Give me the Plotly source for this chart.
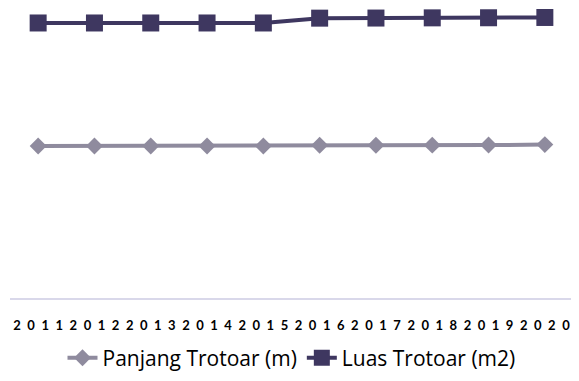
import plotly.graph_objects as go

years = ["2011", "2012", "2013", "2014", "2015", "2016", "2017", "2018", "2019", "2020"]
panjang = [15720, 15720, 15720, 15720, 15730, 15800, 15800, 15810, 15820, 15870]
luas = [28450, 28450, 28450, 28450, 28450, 28950, 28960, 28980, 28990, 29020]

ticktext = ["\u2002".join(list(y)) for y in years]

fig = go.Figure()
fig.add_trace(go.Scatter(
    x=years, y=panjang, name="Panjang Trotoar (m)", mode="lines+markers",
    line=dict(color="#8f8b9e", width=4),
    marker=dict(symbol="diamond", size=13, color="#8f8b9e"),
))
fig.add_trace(go.Scatter(
    x=years, y=luas, name="Luas Trotoar (m2)", mode="lines+markers",
    line=dict(color="#3e3760", width=4),
    marker=dict(symbol="square", size=17, color="#3e3760"),
))

fig.update_layout(
    width=571, height=373,
    margin=dict(l=2, r=6, t=0, b=83),
    paper_bgcolor="white", plot_bgcolor="white",
    font=dict(family="'Open Sans', Lato, sans-serif", color="#000000"),
    xaxis=dict(
        type="category", tickmode="array", tickvals=years, ticktext=ticktext,
        range=[-0.5, len(years) - 0.5],
        showgrid=False, showline=True, linecolor="#d9d8ea", linewidth=2,
        ticks="", ticklabelstandoff=14,
        tickfont=dict(family="Lato", size=13, color="#000000", weight="bold"),
    ),
    yaxis=dict(range=[0, 30000], visible=False, showgrid=False, zeroline=False),
    legend=dict(
        orientation="h", x=0.5, xanchor="center", y=-0.207, yanchor="middle",
        font=dict(family="'Open Sans'", size=21, color="#000000"),
        itemwidth=30, tracegroupgap=0,
    ),
    showlegend=True,
)

fig.write_html("out.html")
